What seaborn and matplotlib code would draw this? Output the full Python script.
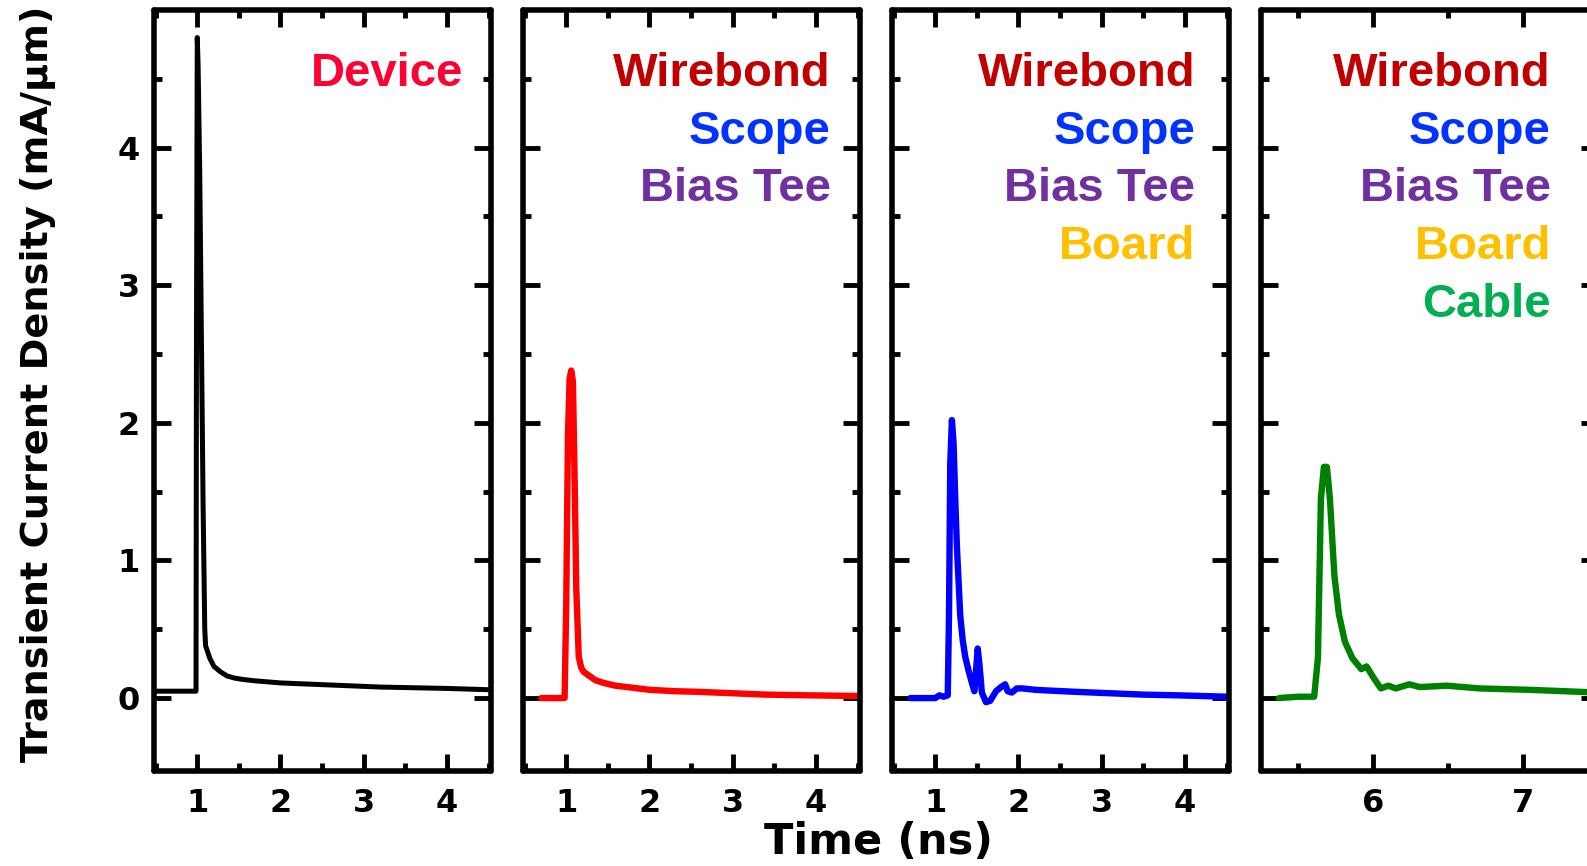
import matplotlib
matplotlib.use('Agg')
import matplotlib.pyplot as plt
from matplotlib.ticker import MultipleLocator, FixedLocator
import pandas as pd
import seaborn as sns

sns.set_style('ticks')
plt.rcParams['font.family'] = ['DejaVu Sans']
plt.rcParams['font.weight'] = 'bold'
plt.rcParams['text.color'] = 'black'
plt.rcParams['axes.labelcolor'] = 'black'
plt.rcParams['xtick.color'] = 'black'
plt.rcParams['ytick.color'] = 'black'

# data (time in ns, current density in mA/um)
device_t = [0.49, 0.985, 0.99, 1.0, 1.01, 1.03, 1.05, 1.07, 1.09, 1.1, 1.15, 1.2, 1.28, 1.36,
            1.45, 1.55, 1.7, 2.0, 2.4, 2.8, 3.2, 3.6, 4.0, 4.54]
device_j = [0.05, 0.05, 2.5, 4.8, 4.6, 3.8, 2.6, 1.4, 0.5, 0.38, 0.29, 0.23, 0.19, 0.16,
            0.145, 0.135, 0.125, 0.11, 0.10, 0.09, 0.08, 0.075, 0.07, 0.06]

wire_t = [0.7, 0.98, 1.0, 1.02, 1.04, 1.06, 1.08, 1.10, 1.12, 1.15, 1.18, 1.21, 1.28, 1.35,
          1.45, 1.59, 1.8, 2.0, 2.3, 2.6, 3.0, 3.4, 3.9, 4.5]
wire_j = [0.0, 0.0, 0.7, 1.9, 2.32, 2.38, 2.3, 1.6, 0.8, 0.3, 0.22, 0.19, 0.16, 0.13,
          0.11, 0.09, 0.075, 0.06, 0.05, 0.045, 0.035, 0.025, 0.02, 0.015]

board_t = [0.7, 1.0, 1.05, 1.10, 1.15, 1.165, 1.18, 1.20, 1.22, 1.24, 1.26, 1.28, 1.30, 1.33,
           1.36, 1.40, 1.44, 1.47, 1.49, 1.51, 1.53, 1.56, 1.61, 1.66, 1.73, 1.79, 1.84, 1.87,
           1.92, 1.98, 2.05, 2.2, 2.35, 2.7, 3.1, 3.5, 3.9, 4.5]
board_j = [0.0, 0.0, 0.02, 0.01, 0.02, 0.6, 1.7, 2.02, 1.85, 1.45, 1.1, 0.85, 0.6, 0.42,
           0.3, 0.2, 0.11, 0.05, 0.2, 0.36, 0.25, 0.04, -0.03, -0.02, 0.05, 0.08, 0.1, 0.05,
           0.04, 0.07, 0.07, 0.06, 0.055, 0.045, 0.035, 0.025, 0.02, 0.01]

cable_t = [5.37, 5.5, 5.605, 5.63, 5.65, 5.67, 5.69, 5.71, 5.74, 5.77, 5.81, 5.86, 5.92, 5.955,
           6.0, 6.05, 6.10, 6.15, 6.24, 6.31, 6.49, 6.71, 7.04, 7.5]
cable_j = [0.0, 0.01, 0.01, 0.29, 1.45, 1.68, 1.68, 1.45, 0.89, 0.61, 0.41, 0.29, 0.21, 0.23,
           0.15, 0.07, 0.09, 0.07, 0.10, 0.08, 0.09, 0.07, 0.06, 0.04]

series = [(device_t, device_j, 'black', 3.6),
          (wire_t, wire_j, '#FF0000', 4.6),
          (board_t, board_j, '#0000FF', 4.6),
          (cable_t, cable_j, '#008000', 4.6)]

labels = [['Device'],
          ['Wirebond', 'Scope', 'Bias Tee'],
          ['Wirebond', 'Scope', 'Bias Tee', 'Board'],
          ['Wirebond', 'Scope', 'Bias Tee', 'Board', 'Cable']]
label_colors = {'Device': '#FF0033', 'Wirebond': '#C00000', 'Scope': '#0033FF',
                'Bias Tee': '#7030A0', 'Board': '#FFC000', 'Cable': '#00B050'}
label_x = [0.918, 0.913, 0.9, 0.86]

xlims = [(0.48, 4.53), (0.48, 4.53), (0.48, 4.53), (5.25, 7.5)]
xmajor = [[1, 2, 3, 4], [1, 2, 3, 4], [1, 2, 3, 4], [6, 7]]

W, H = 1587, 866
fig = plt.figure(figsize=(W / 100, H / 100), dpi=100)

for i in range(4):
    left = (154 + 369 * i) / W
    ax = fig.add_axes([left, 95 / H, 337 / W, 761 / H])
    t, j, c, lw = series[i]
    df = pd.DataFrame({'t': t, 'j': j})
    sns.lineplot(data=df, x='t', y='j', color=c, lw=lw, estimator=None, sort=False,
                 ax=ax, solid_joinstyle='round', solid_capstyle='round')

    ax.set_xlim(*xlims[i])
    ax.set_ylim(-0.53, 5.0)
    ax.xaxis.set_major_locator(FixedLocator(xmajor[i]))
    ax.xaxis.set_minor_locator(MultipleLocator(0.5))
    ax.yaxis.set_major_locator(FixedLocator([0, 1, 2, 3, 4]))
    ax.yaxis.set_minor_locator(FixedLocator([0.5, 1.5, 2.5, 3.5, 4.5]))
    ax.tick_params(which='both', direction='in', top=True, right=True, width=3.5,
                   labelsize=23, color='black', labelcolor='black')
    ax.tick_params(which='major', length=12)
    ax.tick_params(which='minor', length=6)
    ax.tick_params(axis='x', pad=12)
    ax.tick_params(axis='y', pad=10)
    for s in ax.spines.values():
        s.set_linewidth(4)
        s.set_color('black')
        s.set_capstyle('round')
    ax.set_xlabel('')
    ax.set_ylabel('')
    if i == 0:
        ax.set_ylabel('Transient Current Density (mA/\u03bcm)', fontsize=27.5,
                      fontweight='bold')
        ax.yaxis.set_label_coords(-0.29, 0.509)
    else:
        ax.set_yticklabels([])

    for k, name in enumerate(labels[i]):
        ax.text(label_x[i], 0.900 - 0.0757 * k, name, transform=ax.transAxes, ha='right',
                va='baseline', fontsize=34, fontweight='bold', color=label_colors[name],
                family=['Liberation Sans', 'DejaVu Sans'])

fig.text(878 / W, 1 - 842 / H, 'Time (ns)', ha='center', va='center', fontsize=31,
         fontweight='bold')

fig.savefig('out.png', dpi=100)
